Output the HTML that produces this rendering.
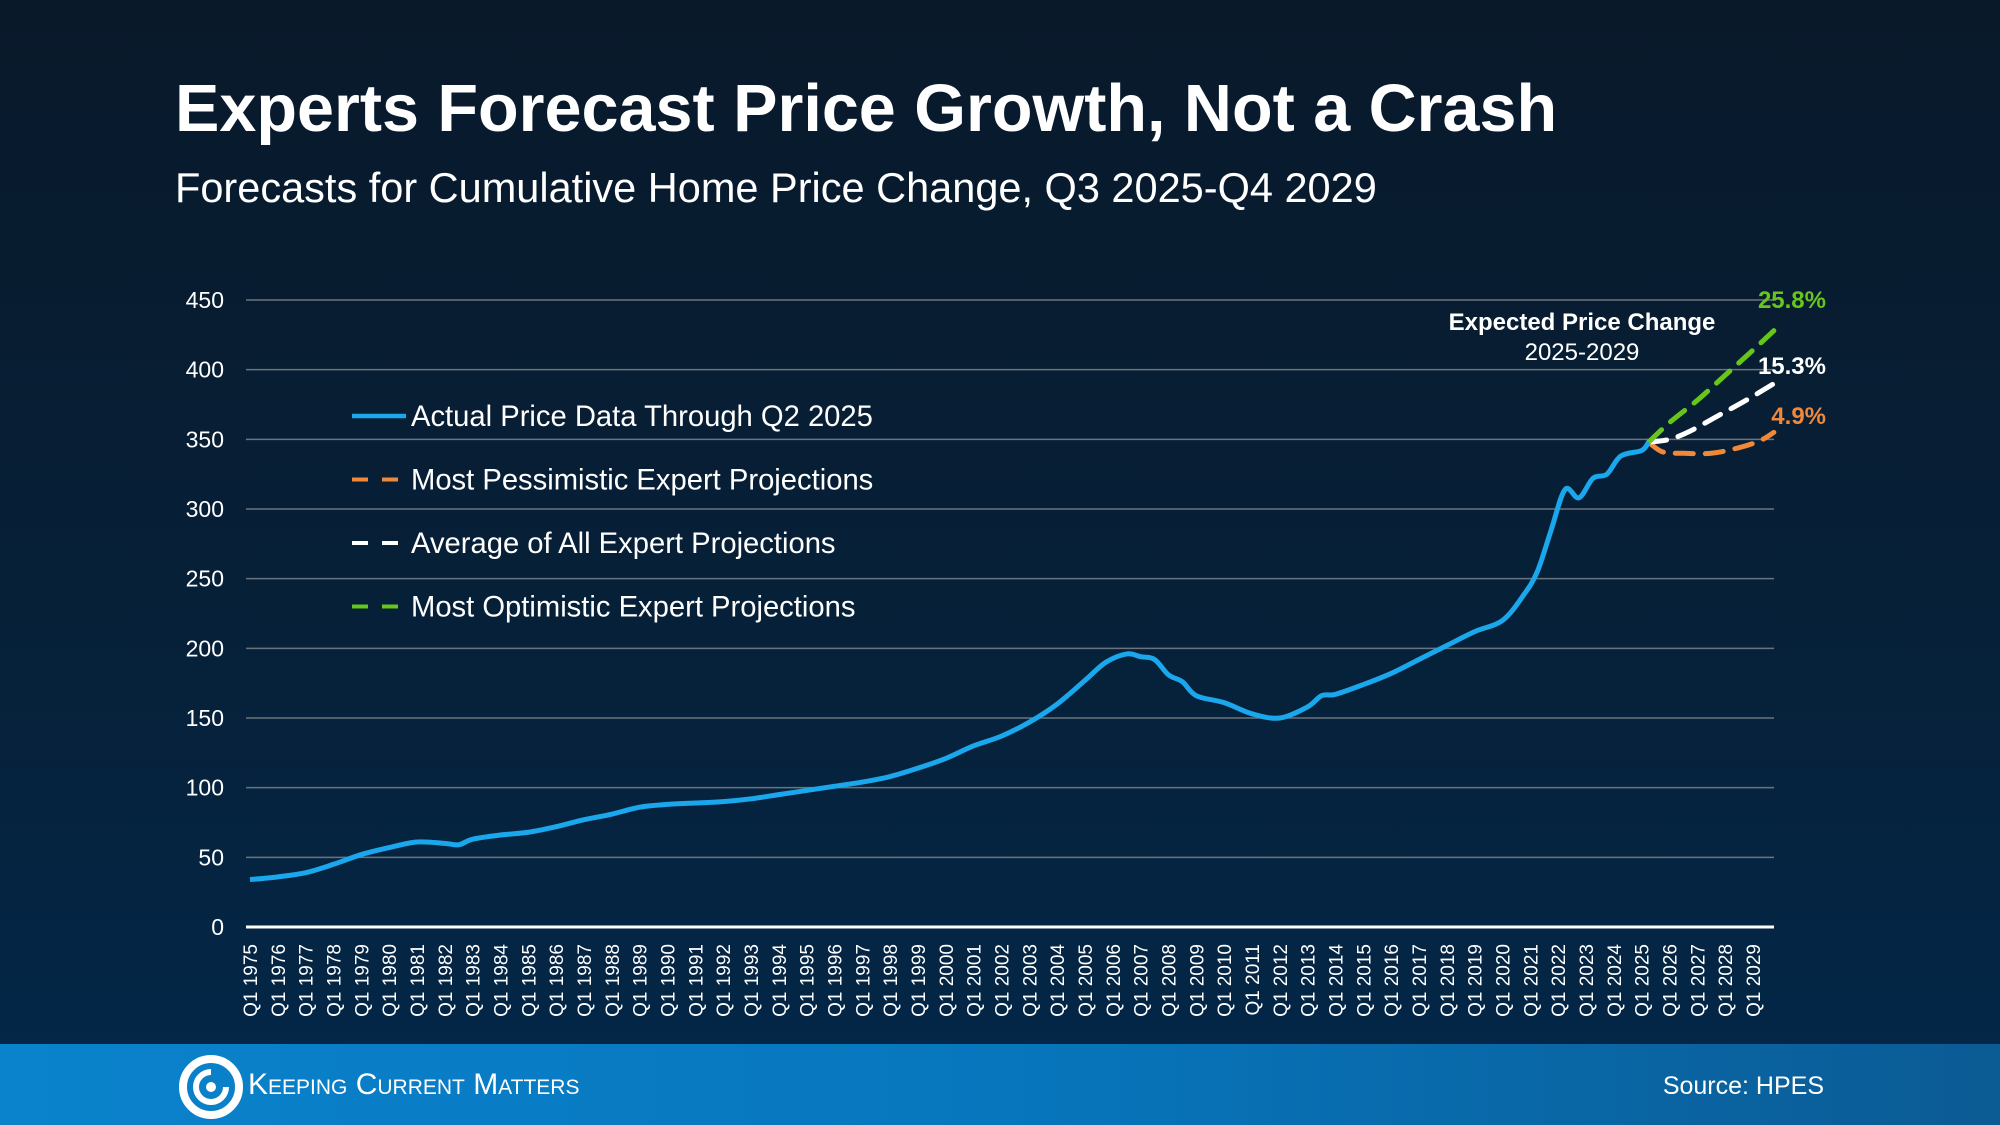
<!DOCTYPE html>
<html><head><meta charset="utf-8">
<style>
html,body{margin:0;padding:0}
body{width:2000px;height:1125px;overflow:hidden;position:relative;font-family:"Liberation Sans",Arial,sans-serif;background:linear-gradient(180deg,#09192a 0%,#06213a 60%,#03284a 100%);}
.t{position:absolute;color:#fff;white-space:nowrap}
#footer{position:absolute;left:0;top:1044px;width:2000px;height:81px;background:linear-gradient(90deg,#0a83cc 0%,#0776bd 50%,#0b5b94 100%)}
</style></head><body>
<div class="t" style="left:175px;top:71px;font-size:66.5px;font-weight:bold;">Experts Forecast Price Growth, Not a Crash</div>
<div class="t" style="left:175px;top:164px;font-size:41.5px;">Forecasts for Cumulative Home Price Change, Q3 2025-Q4 2029</div>
<svg id="c" width="2000" height="1125" style="position:absolute;left:0;top:0" xmlns="http://www.w3.org/2000/svg"></svg>
<div id="footer">
 <svg width="70" height="70" style="position:absolute;left:176px;top:8px" viewBox="0 0 70 70">
  <circle cx="35" cy="35" r="28" fill="none" stroke="#fff" stroke-width="8"/>
  <path d="M35 20 A15 15 0 1 0 50 35" fill="none" stroke="#fff" stroke-width="6"/>
  <circle cx="35" cy="35" r="5" fill="#fff"/>
 </svg>
 <div class="t" style="left:248px;top:24px;font-size:30px;font-variant:small-caps;">Keeping Current Matters</div>
 <div class="t" style="right:176px;top:28px;font-size:25px;">Source: HPES</div>
</div>
<script>
const svg=document.getElementById('c');let h='';
const y0=927,yk=(927-300)/450;
const X=q=>250+(q-1975)*27.833; const Y=v=>y0-v*yk;
for(let v=50;v<=450;v+=50){h+=`<line x1="246" x2="1774" y1="${Y(v)}" y2="${Y(v)}" stroke="#6b747c" stroke-width="1.5"/>`;}
h+=`<line x1="246" x2="1774" y1="${y0}" y2="${y0}" stroke="#fff" stroke-width="3"/>`;
for(let v=0;v<=450;v+=50)h+=`<text x="224" y="${Y(v)+8}" fill="#fff" font-size="23" text-anchor="end">${v}</text>`;
for(let yr=1975;yr<=2029;yr++){const x=X(yr)+7;h+=`<text transform="translate(${x},944) rotate(-90)" fill="#fff" font-size="19" text-anchor="end">Q1 ${yr}</text>`;}
function cr(pts){let d=`M${X(pts[0][0])},${Y(pts[0][1])}`;const P=pts.map(p=>[X(p[0]),Y(p[1])]);
for(let i=0;i<P.length-1;i++){const p0=P[Math.max(0,i-1)],p1=P[i],p2=P[i+1],p3=P[Math.min(P.length-1,i+2)];
d+=` C${p1[0]+(p2[0]-p0[0])/6},${p1[1]+(p2[1]-p0[1])/6} ${p2[0]-(p3[0]-p1[0])/6},${p2[1]-(p3[1]-p1[1])/6} ${p2[0]},${p2[1]}`;}return d;}
const act=[[1975,34],[1976,36],[1977,39],[1978,45],[1979,52],[1980,57],[1981,61],[1982,60],[1982.5,59],[1983,63],[1984,66],[1985,68],[1986,72],[1987,77],[1988,81],[1989,86],[1990,88],[1991,89],[1992,90],[1993,92],[1994,95],[1995,98],[1996,101],[1997,104],[1998,108],[1999,114],[2000,121],[2001,130],[2002,137],[2003,147],[2004,160],[2005,177],[2005.75,190],[2006.5,196],[2007,194],[2007.5,192],[2008,181],[2008.5,176],[2009,166],[2010,161],[2011,153],[2012,150],[2013,158],[2013.5,166],[2014,167],[2015,174],[2016,182],[2017,192],[2018,202],[2019,212],[2020,220],[2020.75,238],[2021.25,255],[2021.75,285],[2022.25,314],[2022.75,308],[2023.25,322],[2023.75,325],[2024.25,338],[2025,342],[2025.25,348]];
const st=[2025.25,348];
const pes=[st,[2025.75,341],[2026.5,340],[2027.5,340],[2028.5,344],[2029.25,349],[2029.75,355]];
const avg=[st,[2026,350],[2026.75,356],[2027.75,367],[2028.75,378],[2029.75,390]];
const opt=[st,[2026,362],[2027,378],[2028,396],[2029,414],[2029.75,428]];
h+=`<path d="${cr(pes)}" fill="none" stroke="#f0883a" stroke-width="5" stroke-dasharray="18,12" stroke-linecap="round"/>`;
h+=`<path d="${cr(avg)}" fill="none" stroke="#fff" stroke-width="5" stroke-dasharray="18,12" stroke-linecap="round"/>`;
h+=`<path d="${cr(opt)}" fill="none" stroke="#66c61c" stroke-width="5" stroke-dasharray="18,12" stroke-linecap="round"/>`;
h+=`<path d="${cr(act)}" fill="none" stroke="#1aa7ec" stroke-width="5" stroke-linejoin="round"/>`;
const leg=[["Actual Price Data Through Q2 2025","#1aa7ec",0],["Most Pessimistic Expert Projections","#f0883a",1],["Average of All Expert Projections","#fff",1],["Most Optimistic Expert Projections","#66c61c",1]];
leg.forEach((l,i)=>{const y=416+i*63.5;
h+= l[2]?`<line x1="352" x2="404" y1="${y}" y2="${y}" stroke="${l[1]}" stroke-width="4" stroke-dasharray="16,14"/>`:`<line x1="352" x2="406" y1="${y}" y2="${y}" stroke="${l[1]}" stroke-width="4.5"/>`;
h+=`<text x="411" y="${y+10}" fill="#fff" font-size="29.2">${l[0]}</text>`;});
h+=`<text x="1582" y="330" fill="#fff" font-size="24" font-weight="bold" text-anchor="middle">Expected Price Change</text>`;
h+=`<text x="1582" y="360" fill="#fff" font-size="24" text-anchor="middle">2025-2029</text>`;
h+=`<text x="1826" y="308" fill="#66c61c" font-size="24" font-weight="bold" text-anchor="end">25.8%</text>`;
h+=`<text x="1826" y="374" fill="#fff" font-size="24" font-weight="bold" text-anchor="end">15.3%</text>`;
h+=`<text x="1826" y="424" fill="#f0883a" font-size="24" font-weight="bold" text-anchor="end">4.9%</text>`;
svg.innerHTML=h;
</script>
</body></html>
